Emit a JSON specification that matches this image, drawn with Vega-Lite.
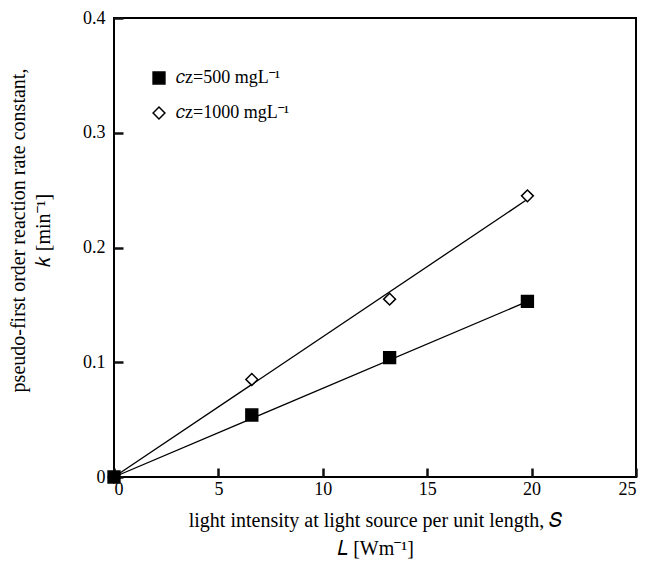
{
  "$schema": "https://vega.github.io/schema/vega-lite/v6.json",
  "width": 522,
  "height": 459,
  "autosize": "none",
  "padding": {"left": 114, "top": 18, "right": 12, "bottom": 87},
  "background": "white",
  "config": {
    "font": "Liberation Serif",
    "view": {"stroke": "black", "strokeWidth": 2},
    "axis": {
      "grid": false,
      "domain": false,
      "labelFont": "Liberation Serif",
      "labelFontSize": 18,
      "labelColor": "black",
      "titleFont": "Liberation Serif",
      "titleFontSize": 20,
      "titleFontWeight": "normal",
      "titleColor": "black"
    },
    "legend": {
      "labelFont": "Liberation Serif",
      "labelFontSize": 18,
      "labelColor": "black"
    }
  },
  "datasets": {
    "obs": [
      {"S": 0, "k": 0, "cz": "500"},
      {"S": 6.6, "k": 0.054, "cz": "500"},
      {"S": 13.2, "k": 0.104, "cz": "500"},
      {"S": 19.8, "k": 0.153, "cz": "500"},
      {"S": 0, "k": 0, "cz": "1000"},
      {"S": 6.6, "k": 0.085, "cz": "1000"},
      {"S": 13.2, "k": 0.155, "cz": "1000"},
      {"S": 19.8, "k": 0.245, "cz": "1000"}
    ],
    "fit": [
      {"S": 0, "k": 0, "cz": "500"},
      {"S": 19.8, "k": 0.153, "cz": "500"},
      {"S": 0, "k": 0, "cz": "1000"},
      {"S": 19.8, "k": 0.242, "cz": "1000"}
    ]
  },
  "layer": [
    {
      "data": {"name": "fit"},
      "mark": {"type": "line", "color": "black", "strokeWidth": 1.3},
      "encoding": {
        "x": {"field": "S", "type": "quantitative"},
        "y": {"field": "k", "type": "quantitative"},
        "detail": {"field": "cz"}
      }
    },
    {
      "data": {"name": "obs"},
      "mark": {"type": "point", "filled": true, "stroke": "black", "strokeWidth": 1.5, "opacity": 1},
      "encoding": {
        "x": {
          "field": "S",
          "type": "quantitative",
          "scale": {"domain": [0, 25], "nice": false},
          "axis": {
            "values": [0, 5, 10, 15, 20, 25],
            "ticks": true,
            "tickSize": -9,
            "tickColor": "#111111",
            "tickWidth": 2.5,
            "tickOpacity": 1,
            "labelPadding": 12,
            "titlePadding": 12,
            "titleLineHeight": 28,
            "title": ["light intensity at light source per unit length,  𝑆", "𝐿 [Wm⁻¹]"]
          }
        },
        "y": {
          "field": "k",
          "type": "quantitative",
          "scale": {"domain": [0, 0.4], "nice": false},
          "axis": {
            "values": [0, 0.1, 0.2, 0.3, 0.4],
            "labelExpr": "datum.value == 0 ? '0' : format(datum.value, '.1f')",
            "ticks": true,
            "tickSize": -9,
            "tickColor": "#111111",
            "tickWidth": 2.5,
            "tickOpacity": 1,
            "labelPadding": 18,
            "titleLineHeight": 25,
            "titleX": -86,
            "titleY": 212,
            "title": ["pseudo-first order reaction rate constant,", "𝑘  [min⁻¹]"]
          }
        },
        "shape": {
          "field": "cz",
          "type": "nominal",
          "sort": ["500", "1000"],
          "scale": {"domain": ["500", "1000"], "range": ["square", "diamond"]},
          "legend": {
            "title": null,
            "orient": "none",
            "legendX": 36,
            "legendY": 51,
            "padding": 0,
            "rowPadding": 17,
            "symbolSize": 140,
            "labelOffset": 8,
            "labelExpr": "'𝑐ᴢ=' + datum.label + ' mgL⁻¹'",
            "encode": {"symbols": {"update": {"stroke": {"value": "black"}, "strokeWidth": {"value": 1.5}}}}
          }
        },
        "fill": {
          "field": "cz",
          "type": "nominal",
          "sort": ["500", "1000"],
          "scale": {"domain": ["500", "1000"], "range": ["black", "white"]},
          "legend": {
            "title": null,
            "orient": "none",
            "legendX": 36,
            "legendY": 51,
            "padding": 0,
            "rowPadding": 17,
            "symbolSize": 140,
            "labelOffset": 8,
            "labelExpr": "'𝑐ᴢ=' + datum.label + ' mgL⁻¹'",
            "encode": {"symbols": {"update": {"stroke": {"value": "black"}, "strokeWidth": {"value": 1.5}}}}
          }
        },
        "size": {"value": 140},
        "order": {"field": "cz", "sort": "ascending"}
      }
    }
  ]
}
